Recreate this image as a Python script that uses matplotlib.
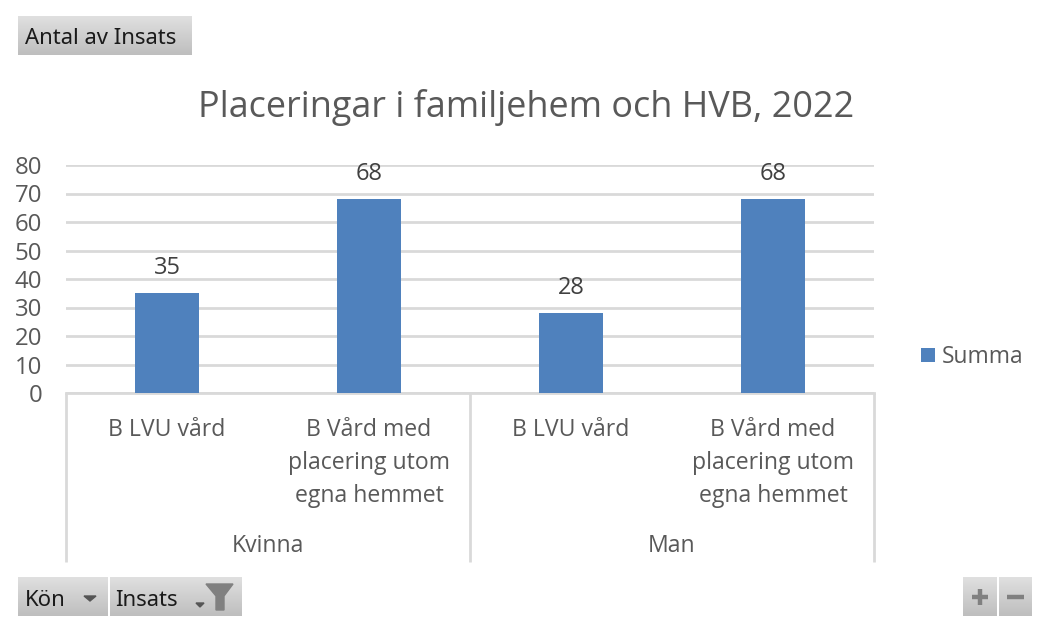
import numpy as np
import matplotlib
matplotlib.use("Agg")
import matplotlib.pyplot as plt
from matplotlib.patches import Polygon

# ---- data ----
categories = ["B LVU vård", "B Vård med\nplacering utom\negna hemmet",
              "B LVU vård", "B Vård med\nplacering utom\negna hemmet"]
groups = ["Kvinna", "Man"]
values = [35, 68, 28, 68]
series_name = "Summa"
yticks = [0, 10, 20, 30, 40, 50, 60, 70, 80]
title = "Placeringar i familjehem och HVB, 2022"

W, H = 1043, 619
BLUE = "#4F81BD"
GRID = "#D9D9D9"
TXT = "#595959"
plt.rcParams["font.family"] = ["Open Sans", "DejaVu Sans"]

fig = plt.figure(figsize=(W / 100, H / 100), dpi=100, facecolor="white")

# plot area in pixels
L, R, T, B = 66, 874, 165, 393
ax = fig.add_axes([L / W, 1 - B / H, (R - L) / W, (B - T) / H])
x = np.arange(len(values))
ax.bar(x, values, width=0.312, color=BLUE, zorder=3, label=series_name)
ax.set_xlim(-0.5, 3.5)
ax.set_ylim(0, 80)
ax.set_yticks(yticks)
ax.set_xticks(x)
ax.set_xticklabels(categories, fontsize=16.6, color=TXT, linespacing=1.49)
ax.tick_params(axis="x", length=0, pad=18)
ax.tick_params(axis="y", length=0, pad=17, labelsize=17.3, labelcolor=TXT)
ax.yaxis.grid(True, color=GRID, lw=2, zorder=0)
ax.set_axisbelow(True)
for s in ["top", "left", "right"]:
    ax.spines[s].set_visible(False)
ax.spines["bottom"].set_color(GRID)
ax.spines["bottom"].set_linewidth(2)

for xi, v in zip(x, values):
    ax.annotate(str(v), (xi, v), xytext=(0, 13), textcoords="offset pixels",
                ha="center", va="bottom", fontsize=17, color="#404040")

ax.legend(loc="center left", bbox_to_anchor=((921 - L) / (R - L), (B - 357) / (B - T)),
          frameon=False, handlelength=0.62, handleheight=0.62, handletextpad=0.28,
          borderpad=0, borderaxespad=0, labelcolor=TXT, prop={"size": 16.4})

# overlay in pixel coordinates for the multi-level axis, title and pivot buttons
ov = fig.add_axes([0, 0, 1, 1], zorder=5)
ov.set_xlim(0, W)
ov.set_ylim(H, 0)
ov.axis("off")
ov.patch.set_alpha(0)

for px in [L, 470, R]:
    ov.plot([px, px], [B, 562], color=GRID, lw=2, solid_capstyle="butt")
ov.text(268, 546, groups[0], ha="center", va="center", fontsize=16.6, color=TXT)
ov.text(672, 546, groups[1], ha="center", va="center", fontsize=16.6, color=TXT)
ov.text(526, 107, title, ha="center", va="center", fontsize=25.9, color=TXT)

grad = np.linspace(0, 1, 64).reshape(-1, 1)
cmap = matplotlib.colors.LinearSegmentedColormap.from_list("btn", ["#E0E0E0", "#BEBEBE"])

def button(x0, x1, y0, y1):
    ov.imshow(grad, extent=(x0, x1, y1, y0), cmap=cmap, aspect="auto", zorder=2, vmin=0, vmax=1)

button(18, 192, 16, 55)
button(18, 108, 577, 616)
button(110, 242, 577, 616)
button(963, 997, 577, 616)
button(999, 1032, 577, 616)
ov.set_xlim(0, W)
ov.set_ylim(H, 0)

BT = "#1A1A1A"
BFONT = "Noto Sans"
ov.text(25, 39, "Antal av Insats", ha="left", va="center", fontsize=15.9, color=BT,
        family=BFONT, zorder=3)
ov.text(25, 600, "Kön", ha="left", va="center", fontsize=15.9, color=BT,
        family=BFONT, zorder=3)
ov.text(115, 600, "Insats", ha="left", va="center", fontsize=15.9, color=BT,
        family=BFONT, zorder=3)

ICON = "#555555"
ov.add_patch(Polygon([(84, 596), (96, 596), (90, 601)], color=ICON, zorder=3))
ov.add_patch(Polygon([(196, 603), (204, 603), (200, 607)], color=ICON, zorder=3))
ov.add_patch(Polygon([(206, 584), (233, 584), (224, 596), (224, 610), (216, 610), (216, 596)],
                     color="#808080", zorder=3))
# plus / minus
ov.plot([972, 988], [597, 597], color="#808080", lw=3.2, zorder=3, solid_capstyle="butt")
ov.plot([980, 980], [589, 605], color="#808080", lw=3.2, zorder=3, solid_capstyle="butt")
ov.plot([1007, 1024], [597, 597], color="#808080", lw=3.2, zorder=3, solid_capstyle="butt")

fig.savefig("out.png", dpi=100, facecolor="white")
